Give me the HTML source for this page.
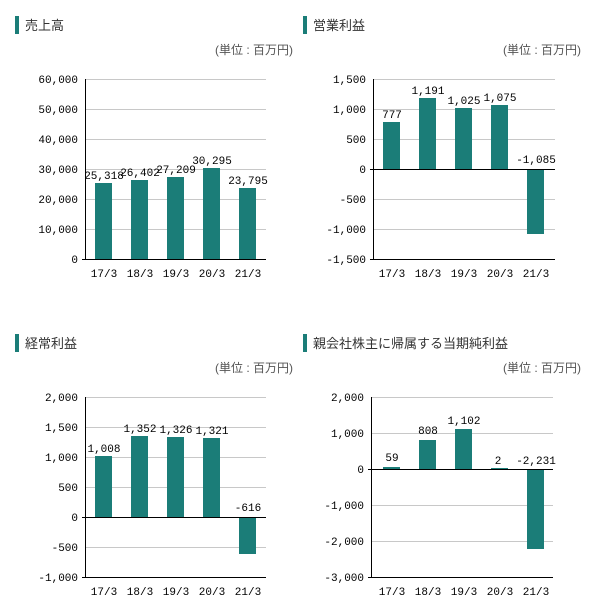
<!DOCTYPE html>
<html><head><meta charset="utf-8"><style>
html,body{margin:0;padding:0;background:#fff;width:609px;height:611px;overflow:hidden}
svg{display:block}
.t{font-family:"Liberation Sans","Noto Sans CJK JP",sans-serif;font-size:13px;fill:#333}
.u{font-family:"Liberation Sans","Noto Sans CJK JP",sans-serif;font-size:12px;fill:#555}
.n{font-family:"Liberation Mono",monospace;font-size:11px;fill:#000}
.g{stroke:#c8c8c8;stroke-width:1}
.a{stroke:#000;stroke-width:1}
.b{fill:#1b7d78}
</style></head><body>
<svg width="609" height="611" xmlns="http://www.w3.org/2000/svg">
<!-- Chart 1 -->
<rect x="15" y="16" width="4" height="18" fill="#1b7d78"/>
<text class="t" x="25" y="30">売上高</text>
<text class="u" x="293" y="54" text-anchor="end">(単位 : 百万円)</text>
<g class="g"><line x1="85" y1="79.5" x2="266" y2="79.5"/><line x1="85" y1="109.5" x2="266" y2="109.5"/><line x1="85" y1="139.5" x2="266" y2="139.5"/><line x1="85" y1="169.5" x2="266" y2="169.5"/><line x1="85" y1="199.5" x2="266" y2="199.5"/><line x1="85" y1="229.5" x2="266" y2="229.5"/></g>
<g class="n" text-anchor="end"><text x="78" y="83">60,000</text><text x="78" y="113">50,000</text><text x="78" y="143">40,000</text><text x="78" y="173">30,000</text><text x="78" y="203">20,000</text><text x="78" y="233">10,000</text><text x="78" y="263">0</text></g>
<rect class="b" x="95" y="183" width="17" height="76"/><rect class="b" x="131" y="180" width="17" height="79"/><rect class="b" x="167" y="177" width="17" height="82"/><rect class="b" x="203" y="168" width="17" height="91"/><rect class="b" x="239" y="188" width="17" height="71"/>
<g class="n" text-anchor="middle"><text x="104" y="179">25,318</text><text x="140" y="176">26,402</text><text x="176" y="173">27,209</text><text x="212" y="164">30,295</text><text x="248" y="184">23,795</text></g>
<line class="a" x1="85.5" y1="79" x2="85.5" y2="259"/><line class="a" x1="82" y1="259.5" x2="266" y2="259.5"/>
<g class="n" text-anchor="middle"><text x="104" y="277">17/3</text><text x="140" y="277">18/3</text><text x="176" y="277">19/3</text><text x="212" y="277">20/3</text><text x="248" y="277">21/3</text></g>

<!-- Chart 2 -->
<rect x="303" y="16" width="4" height="18" fill="#1b7d78"/>
<text class="t" x="313" y="30">営業利益</text>
<text class="u" x="581" y="54" text-anchor="end">(単位 : 百万円)</text>
<g class="g"><line x1="373" y1="79.5" x2="555" y2="79.5"/><line x1="373" y1="109.5" x2="555" y2="109.5"/><line x1="373" y1="139.5" x2="555" y2="139.5"/><line x1="373" y1="199.5" x2="555" y2="199.5"/><line x1="373" y1="229.5" x2="555" y2="229.5"/></g>
<g class="n" text-anchor="end"><text x="366" y="83">1,500</text><text x="366" y="113">1,000</text><text x="366" y="143">500</text><text x="366" y="173">0</text><text x="366" y="203">-500</text><text x="366" y="233">-1,000</text><text x="366" y="263">-1,500</text></g>
<rect class="b" x="383" y="122" width="17" height="47"/><rect class="b" x="419" y="98" width="17" height="71"/><rect class="b" x="455" y="108" width="17" height="61"/><rect class="b" x="491" y="105" width="17" height="64"/><rect class="b" x="527" y="169" width="17" height="65"/>
<g class="n" text-anchor="middle"><text x="392" y="118">777</text><text x="428" y="94">1,191</text><text x="464" y="104">1,025</text><text x="500" y="101">1,075</text><text x="536" y="163">-1,085</text></g>
<line class="a" x1="373.5" y1="79" x2="373.5" y2="259"/><line class="a" x1="370" y1="169.5" x2="555" y2="169.5"/><line class="a" x1="370" y1="259.5" x2="555" y2="259.5"/>
<g class="n" text-anchor="middle"><text x="392" y="277">17/3</text><text x="428" y="277">18/3</text><text x="464" y="277">19/3</text><text x="500" y="277">20/3</text><text x="536" y="277">21/3</text></g>

<!-- Chart 3 -->
<rect x="15" y="334" width="4" height="18" fill="#1b7d78"/>
<text class="t" x="25" y="348">経常利益</text>
<text class="u" x="293" y="372" text-anchor="end">(単位 : 百万円)</text>
<g class="g"><line x1="85" y1="397.5" x2="266" y2="397.5"/><line x1="85" y1="427.5" x2="266" y2="427.5"/><line x1="85" y1="457.5" x2="266" y2="457.5"/><line x1="85" y1="487.5" x2="266" y2="487.5"/><line x1="85" y1="547.5" x2="266" y2="547.5"/></g>
<g class="n" text-anchor="end"><text x="78" y="401">2,000</text><text x="78" y="431">1,500</text><text x="78" y="461">1,000</text><text x="78" y="491">500</text><text x="78" y="521">0</text><text x="78" y="551">-500</text><text x="78" y="581">-1,000</text></g>
<rect class="b" x="95" y="456" width="17" height="61"/><rect class="b" x="131" y="436" width="17" height="81"/><rect class="b" x="167" y="437" width="17" height="80"/><rect class="b" x="203" y="438" width="17" height="79"/><rect class="b" x="239" y="517" width="17" height="37"/>
<g class="n" text-anchor="middle"><text x="104" y="452">1,008</text><text x="140" y="432">1,352</text><text x="176" y="433">1,326</text><text x="212" y="434">1,321</text><text x="248" y="511">-616</text></g>
<line class="a" x1="85.5" y1="397" x2="85.5" y2="577"/><line class="a" x1="82" y1="517.5" x2="266" y2="517.5"/><line class="a" x1="82" y1="577.5" x2="266" y2="577.5"/>
<g class="n" text-anchor="middle"><text x="104" y="595">17/3</text><text x="140" y="595">18/3</text><text x="176" y="595">19/3</text><text x="212" y="595">20/3</text><text x="248" y="595">21/3</text></g>

<!-- Chart 4 -->
<rect x="303" y="334" width="4" height="18" fill="#1b7d78"/>
<text class="t" x="313" y="348">親会社株主に帰属する当期純利益</text>
<text class="u" x="581" y="372" text-anchor="end">(単位 : 百万円)</text>
<g class="g"><line x1="371" y1="397.5" x2="553" y2="397.5"/><line x1="371" y1="433.5" x2="553" y2="433.5"/><line x1="371" y1="505.5" x2="553" y2="505.5"/><line x1="371" y1="541.5" x2="553" y2="541.5"/></g>
<g class="n" text-anchor="end"><text x="364" y="401">2,000</text><text x="364" y="437">1,000</text><text x="364" y="473">0</text><text x="364" y="509">-1,000</text><text x="364" y="545">-2,000</text><text x="364" y="581">-3,000</text></g>
<rect class="b" x="383" y="467" width="17" height="2"/><rect class="b" x="419" y="440" width="17" height="29"/><rect class="b" x="455" y="429" width="17" height="40"/><rect class="b" x="491" y="468" width="17" height="1"/><rect class="b" x="527" y="469" width="17" height="80"/>
<g class="n" text-anchor="middle"><text x="392" y="461">59</text><text x="428" y="434">808</text><text x="464" y="424">1,102</text><text x="498" y="464">2</text><text x="536" y="464">-2,231</text></g>
<line class="a" x1="371.5" y1="397" x2="371.5" y2="577"/><line class="a" x1="368" y1="469.5" x2="553" y2="469.5"/><line class="a" x1="368" y1="577.5" x2="553" y2="577.5"/>
<g class="n" text-anchor="middle"><text x="392" y="595">17/3</text><text x="428" y="595">18/3</text><text x="464" y="595">19/3</text><text x="500" y="595">20/3</text><text x="536" y="595">21/3</text></g>
</svg>
</body></html>
